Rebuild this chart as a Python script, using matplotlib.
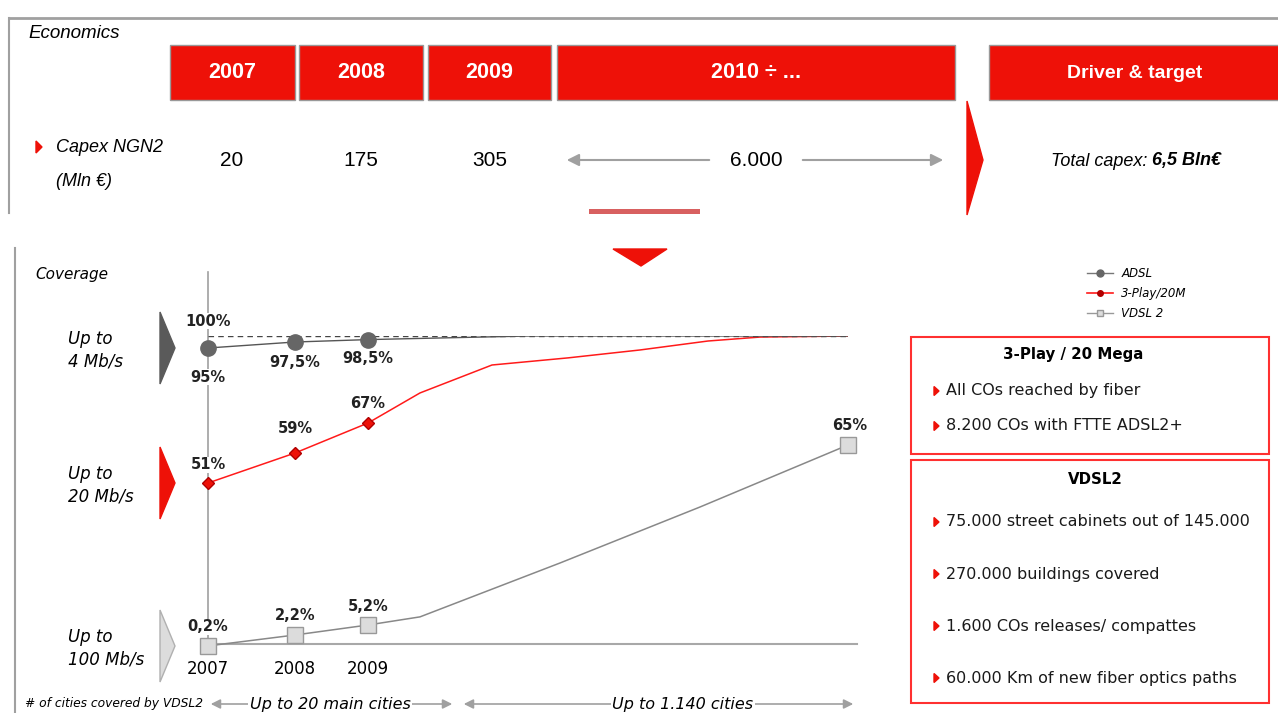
import numpy as np
import matplotlib
matplotlib.use("Agg")
import matplotlib.pyplot as plt
import matplotlib.lines as mlines
from matplotlib.patches import Rectangle, Polygon

# ---- data ----
years_hdr = ["2007", "2008", "2009", "2010 ÷ ..."]
capex = ["20", "175", "305", "6.000"]
total_capex = "6,5 Bln€"

adsl_x = [2007, 2008, 2009, 2011.0, 2015]
adsl_y = [95, 97.5, 98.5, 100, 100]
adsl_lbl = ["95%", "97,5%", "98,5%"]

play_x = [2007, 2008, 2009, 2009.65, 2010.55, 2011.5, 2012.4, 2013.25, 2013.9, 2015]
play_y = [51, 59, 67, 78.4, 89.0, 91.7, 94.7, 98.1, 99.6, 100]
play_lbl = ["51%", "59%", "67%"]

vdsl_x = [2007, 2008, 2009, 2009.65, 2011.4, 2013.15, 2015]
vdsl_y = [0.2, 2.2, 5.2, 7.9, 25.8, 44.4, 65]
vdsl_lbl = ["0,2%", "2,2%", "5,2%"]

speed_labels = ["Up to\n4 Mb/s", "Up to\n20 Mb/s", "Up to\n100 Mb/s"]
box1_title = "3-Play / 20 Mega"
box1_items = ["All COs reached by fiber", "8.200 COs with FTTE ADSL2+"]
box2_title = "VDSL2"
box2_items = ["75.000 street cabinets out of 145.000", "270.000 buildings covered",
              "1.600 COs releases/ compattes", "60.000 Km of new fiber optics paths"]

RED = "#ee1108"
W, H = 1278, 713
LIB = "Liberation Sans"

fig = plt.figure(figsize=(W / 100, H / 100), dpi=100)
bg = fig.add_axes([0, 0, 1, 1])
bg.set_xlim(0, W)
bg.set_ylim(H, 0)
bg.axis("off")

# ---- top panel ----
bg.plot([9, W], [18, 18], color="#a0a0a0", lw=2)
bg.plot([9, 9], [18, 213], color="#a0a0a0", lw=1.5)
bg.text(28, 33, "Economics", fontsize=13.5, style="italic", family=LIB, va="center")

hdr_boxes = [(170, 295), (299, 423), (428, 551), (557, 955)]
for (x0, x1), t in zip(hdr_boxes, years_hdr):
    bg.add_patch(Rectangle((x0, 45), x1 - x0, 55, fc=RED, ec="#999999", lw=1))
    bg.text((x0 + x1) / 2, 73, t, color="white", fontsize=15.5, weight="bold",
            family=LIB, ha="center", va="center")
bg.add_patch(Rectangle((989, 45), 300, 55, fc=RED, ec="#999999", lw=1))
bg.text(1135, 73, "Driver & target", color="white", fontsize=14, weight="bold",
        family=LIB, ha="center", va="center")

bg.add_patch(Polygon([(36, 141), (36, 153), (42, 147)], color=RED))
bg.text(56, 147, "Capex NGN2", fontsize=13, style="italic", family=LIB, va="center")
bg.text(56, 181, "(Mln €)", fontsize=13, style="italic", family=LIB, va="center")
for xc, v in zip([232, 361, 490, 756], capex):
    bg.text(xc, 161, v, fontsize=15, family=LIB, ha="center", va="center")
bg.annotate("", xy=(564, 160), xytext=(712, 160),
            arrowprops=dict(arrowstyle="-|>", color="#a0a0a0", lw=1.5, mutation_scale=18))
bg.annotate("", xy=(946, 160), xytext=(800, 160),
            arrowprops=dict(arrowstyle="-|>", color="#a0a0a0", lw=1.5, mutation_scale=18))
bg.add_patch(Polygon([(967, 101), (967, 215), (983, 160)], color=RED))
bg.text(1152, 161, "Total capex: ", fontsize=13, style="italic", family=LIB,
        ha="right", va="center")
bg.text(1152, 161, total_capex, fontsize=13, style="italic", weight="bold",
        family=LIB, ha="left", va="center")

bg.add_patch(Rectangle((589, 209), 111, 5, fc="#d86060", ec="none"))
bg.add_patch(Polygon([(613, 249), (667, 249), (641, 266)], color=RED))

# ---- lower panel ----
bg.plot([15, 15], [248, H], color="#a0a0a0", lw=1.5)
bg.text(35, 275, "Coverage", fontsize=11, style="italic", va="center")
tri_cols = [("#5a5a5a", "#5a5a5a"), (RED, RED), ("#dcdcdc", "#b0b0b0")]
for yc, lab, (fc, ec) in zip([348, 483, 646], speed_labels, tri_cols):
    bg.add_patch(Polygon([(160, yc - 36), (160, yc + 36), (175, yc)], fc=fc, ec=ec, lw=1))
    bg.text(68, yc + 2, lab, fontsize=12, style="italic", va="center", linespacing=1.3)

# guide lines of the chart frame
bg.plot([208, 208], [272, 646], color="#a0a0a0", lw=1.2, zorder=0)
bg.plot([208, 857], [644, 644], color="#a8a8a8", lw=1.5, zorder=0)

bg.text(25, 703, "# of cities covered by VDSL2", fontsize=8.8, style="italic", va="center")
for x0, x1, xc, lab in [(208, 455, 330, "Up to 20 main cities"),
                        (461, 856, 683, "Up to 1.140 cities")]:
    bg.annotate("", xy=(x0, 704), xytext=(x1, 704),
                arrowprops=dict(arrowstyle="<|-|>", color="#a0a0a0", lw=1.2, mutation_scale=14))
    bg.text(xc, 705, lab, fontsize=11.5, style="italic", ha="center", va="center",
            bbox=dict(fc="white", ec="none", pad=1))

# ---- chart axes: schematic scales per series ----
px_left, px_right, px_top, px_bot = 208, 848, 336, 647
rect = [px_left / W, 1 - px_bot / H, (px_right - px_left) / W, (px_bot - px_top) / H]
x_anchor = np.array([2007, 2008, 2009, 2015])
x_px = np.array([208, 295, 368, 848])


def band(ax, vals, pxs):
    vals = np.asarray(vals, float)
    neg = -np.asarray(pxs, float)
    ax.set_yscale("function", functions=(lambda v: np.interp(v, vals, neg),
                                         lambda t: np.interp(t, neg, vals)))
    ax.set_ylim(vals[0], vals[-1])
    ax.set_xscale("function", functions=(lambda v: np.interp(v, x_anchor, x_px),
                                         lambda t: np.interp(t, x_px, x_anchor)))
    ax.set_xlim(2007, 2015)
    ax.patch.set_alpha(0)
    for s in ax.spines.values():
        s.set_visible(False)
    ax.set_yticks([])
    ax.set_xticks([])


ax_v = fig.add_axes(rect)
band(ax_v, [0, 2.2, 5.2, 65, 101.2], [647, 635, 625, 445, 336])
ax_p = fig.add_axes(rect)
band(ax_p, [7.3, 51, 67, 100], [647, 483, 423, 336])
ax_a = fig.add_axes(rect)
band(ax_a, [-29.6, 95, 100], [647, 348, 336])

ax_a.plot([2007, 2015], [100, 100], color="#444444", lw=1, ls=(0, (4, 3)), zorder=1)

ax_v.set_xticks([2007, 2008, 2009])
ax_v.set_xticklabels(["2007", "2008", "2009"], fontsize=12)
ax_v.tick_params(axis="x", length=0, pad=9)

la, = ax_a.plot(adsl_x, adsl_y, color="#555555", lw=1, zorder=3)
ax_a.plot(adsl_x[:3], adsl_y[:3], ls="none", marker="o", ms=11, color="#666666", zorder=4,
          clip_on=False)
lp, = ax_p.plot(play_x, play_y, color="#ff1a1a", lw=1.1, zorder=3)
ax_p.plot(play_x[:3], play_y[:3], ls="none", marker="D", ms=6, mfc="#ee1108", mec="#b00000",
          zorder=4, clip_on=False)
lv, = ax_v.plot(vdsl_x, vdsl_y, color="#888888", lw=1.1, zorder=3)
ax_v.plot([vdsl_x[0], vdsl_x[1], vdsl_x[2], vdsl_x[-1]],
          [vdsl_y[0], vdsl_y[1], vdsl_y[2], vdsl_y[-1]], ls="none", marker="s", ms=11,
          mfc="#dcdcdc", mec="#999999", zorder=4, clip_on=False)

lab_kw = dict(fontsize=10.5, weight="bold", ha="center", va="center", color="#222222",
              bbox=dict(fc="white", ec="none", pad=0.5), zorder=5)
ax_a.annotate("100%", (2007, 100), xytext=(0, 10.8), textcoords="offset points", **lab_kw)
offs_a = [(0, -21), (0, -14.4), (0, -13.3)]
for x, y, t, o in zip(adsl_x, adsl_y, adsl_lbl, offs_a):
    ax_a.annotate(t, (x, y), xytext=o, textcoords="offset points", **lab_kw)
offs_p = [(0, 13), (0, 17.3), (0, 13.7)]
for x, y, t, o in zip(play_x, play_y, play_lbl, offs_p):
    ax_p.annotate(t, (x, y), xytext=o, textcoords="offset points", **lab_kw)
offs_v = [(0, 13.7), (0, 13.7), (0, 13)]
for x, y, t, o in zip(vdsl_x, vdsl_y, vdsl_lbl, offs_v):
    ax_v.annotate(t, (x, y), xytext=o, textcoords="offset points", **lab_kw)
ax_v.annotate("65%", (vdsl_x[-1], vdsl_y[-1]), xytext=(1.5, 14.4), textcoords="offset points",
              **lab_kw)

# legend
h1 = mlines.Line2D([], [], color="#777777", lw=1, marker="o", ms=5, mfc="#666666", mec="#666666")
h2 = mlines.Line2D([], [], color="#ff1a1a", lw=1.2, marker="o", ms=4, mfc="#b00000", mec="#b00000")
h3 = mlines.Line2D([], [], color="#999999", lw=1, marker="s", ms=5, mfc="#dddddd", mec="#999999")
fig.legend([h1, h2, h3], ["ADSL", "3-Play/20M", "VDSL 2"], loc="upper left",
           bbox_to_anchor=(1081 / W, 1 - 261 / H), frameon=False,
           prop=dict(size=8.5, style="italic"), handlelength=2.2, labelspacing=0.6,
           borderpad=0, handletextpad=0.7)

# ---- right boxes ----
def info_box(y0, y1, title, title_x, items, title_y, item_ys):
    bg.add_patch(Rectangle((911, y0), 358, y1 - y0, fc="white", ec="#ff3030", lw=1.5))
    bg.text(title_x, title_y, title, fontsize=10.8, weight="bold", ha="center", va="center")
    for it, yy in zip(items, item_ys):
        bg.add_patch(Polygon([(934, yy - 4.5), (934, yy + 4.5), (939, yy)], color=RED))
        bg.text(946, yy, it, fontsize=11.5, va="center", color="#1a1a1a")


info_box(337, 454, box1_title, 1073, box1_items, 354, [391, 426])
info_box(460, 703, box2_title, 1095, box2_items, 480, [522, 574, 626, 678])

fig.savefig("out.png", dpi=100, facecolor="white")
